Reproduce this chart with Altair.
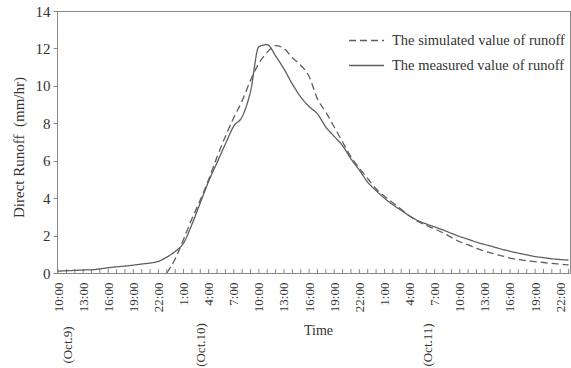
import altair as alt
import pandas as pd

# hours since Oct.9 10:00
hours = list(range(0, 62))

measured = [0.10, 0.12, 0.14, 0.16, 0.17, 0.22, 0.28, 0.33, 0.37, 0.42,
            0.48, 0.53, 0.62, 0.85, 1.15, 1.60, 2.60, 3.75, 4.90, 5.90,
            6.90, 7.85, 8.35, 9.70, 12.10, 12.20, 11.60, 10.90, 10.10, 9.40,
            8.90, 8.50, 7.80, 7.30, 6.80, 6.10, 5.50, 4.85, 4.40, 4.00,
            3.65, 3.35, 3.05, 2.80, 2.62, 2.46, 2.30, 2.12, 1.95, 1.80,
            1.65, 1.52, 1.40, 1.27, 1.16, 1.06, 0.97, 0.88, 0.82, 0.76,
            0.72, 0.69]

sim_hours = list(range(13, 62))
simulated = [0.00, 0.75, 1.80, 2.90, 3.90, 5.00, 6.20, 7.30, 8.30, 9.20,
             10.30, 11.20, 11.80, 12.15, 12.00, 11.50, 11.10, 10.50, 9.30, 8.60,
             7.80, 7.00, 6.20, 5.60, 5.05, 4.50, 4.10, 3.75, 3.40, 3.05,
             2.75, 2.55, 2.35, 2.15, 1.90, 1.67, 1.50, 1.32, 1.16, 1.03,
             0.92, 0.80, 0.73, 0.66, 0.61, 0.56, 0.51, 0.47, 0.43]

series_names = ["The simulated value of runoff", "The measured value of runoff"]
date_labels = ["(Oct.9)", "(Oct.10)", "(Oct.11)"]
date_hours = [1.2, 17.1, 44.2]

df = pd.concat([
    pd.DataFrame({"hour": sim_hours, "value": simulated, "series": series_names[0]}),
    pd.DataFrame({"hour": hours, "value": measured, "series": series_names[1]}),
])
ticks_df = pd.DataFrame({"hour": hours})
dates_df = pd.DataFrame({"hour": date_hours, "label": date_labels})

FONT = "Liberation Serif"
TXT = "#333333"
LINE = "#5e5e5e"

xscale = alt.Scale(domain=[-0.12, 61.17], nice=False, zero=False)
xaxis = alt.Axis(values=list(range(0, 61, 3)), ticks=False, grid=False,
                 labelAngle=-90, labelAlign="right", labelBaseline="middle",
                 labelPadding=9, labelFont=FONT, labelFontSize=13, labelColor=TXT,
                 labelExpr="((datum.value + 10) % 24) + ':00'",
                 labelOverlap=False, labelFlush=False, labelBound=False,
                 domainColor="#888888", title="Time", titleFont=FONT,
                 titleFontSize=14, titleFontWeight="normal", titleColor=TXT,
                 titleBaseline="middle", titleX=261, titleY=57)

lines = alt.Chart(df).mark_line(interpolate="monotone", strokeWidth=1.3, color=LINE).encode(
    x=alt.X("hour:Q", scale=xscale, axis=xaxis),
    y=alt.Y("value:Q", scale=alt.Scale(domain=[0, 14], nice=False),
            axis=alt.Axis(values=list(range(0, 15, 2)), grid=False, tickSize=4,
                          tickColor="#888888", domainColor="#888888", labelPadding=3,
                          labelFont=FONT, labelFontSize=15, labelColor=TXT,
                          title="Direct Runoff\u00a0\u00a0(mm/hr)", titleFont=FONT,
                          titleFontSize=15, titleFontWeight="normal", titleColor=TXT,
                          titleBaseline="middle", titleX=-39, titleY=136)),
    strokeDash=alt.StrokeDash("series:N",
                              scale=alt.Scale(domain=series_names, range=[[7, 4], [1, 0]]),
                              legend=alt.Legend(title=None, orient="none", legendX=291, legendY=11,
                                                symbolType="stroke", symbolSize=1225,
                                                symbolStrokeWidth=1.3, symbolStrokeColor=LINE,
                                                labelFont=FONT, labelFontSize=14.5, labelColor=TXT,
                                                labelLimit=0, labelOffset=7, rowPadding=-10,
                                                padding=0)),
    detail="series:N",
)

inner_ticks = alt.Chart(ticks_df).mark_rule(color="#888888", strokeWidth=1).encode(
    x=alt.X("hour:Q", scale=xscale, axis=xaxis),
    y=alt.value(262), y2=alt.value(258),
)

dates = alt.Chart(dates_df).mark_text(angle=270, font=FONT, fontSize=13, color=TXT,
                                      align="center", baseline="middle").encode(
    x=alt.X("hour:Q", scale=xscale, axis=xaxis),
    y=alt.value(334),
    text="label:N",
)

chart = alt.layer(inner_ticks, lines, dates).properties(
    width=513, height=262, autosize="none",
    padding={"left": 57, "top": 11, "right": 1, "bottom": 95},
    background="white",
).configure_view(stroke="#888888", strokeWidth=1)

chart.save("out.html", embed_options={"renderer": "svg", "actions": False})
